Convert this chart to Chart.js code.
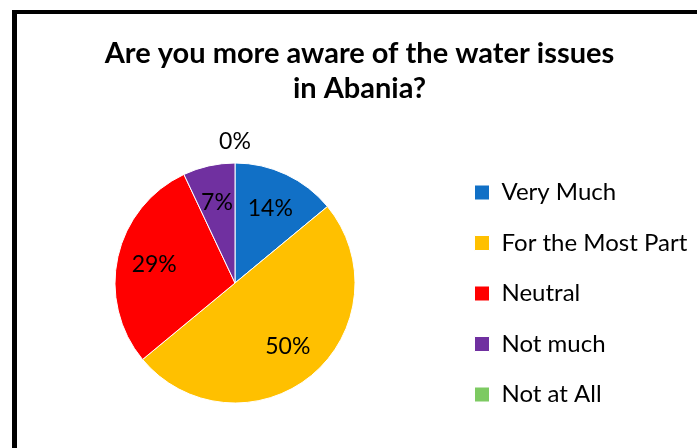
<!DOCTYPE html>
<html>
<head>
<meta charset="utf-8">
<script src="https://cdn.jsdelivr.net/npm/chart.js@4"></script>
<style>
  html, body { margin: 0; padding: 0; background: #fff; overflow: hidden; }
  #wrap { position: relative; width: 697px; height: 448px; overflow: hidden; }
  #frame { position: absolute; left: 12px; top: 10px; width: 720px; height: 480px;
           border-left: 5px solid #000; border-top: 4px solid #000; box-sizing: border-box; }
  canvas { position: absolute; left: 0; top: 0; }
</style>
</head>
<body>
<div id="wrap">
  <div id="frame"></div>
  <canvas id="c" width="697" height="448"></canvas>
</div>
<script>
const titleLines = ['Are you more aware of the water issues', 'in Abania?'];
const categories = ['Very Much', 'For the Most Part', 'Neutral', 'Not much', 'Not at All'];
const values = [14, 50, 29, 7, 0];
const sliceColors = ['#1170C6', '#FFC000', '#FF0000', '#7030A0', '#7DCA62'];

const FONT = 'Lato, Carlito, Calibri, sans-serif';

const labelPlugin = {
  id: 'sliceLabels',
  afterDatasetsDraw(chart) {
    const ctx = chart.ctx;
    const meta = chart.getDatasetMeta(0);
    ctx.save();
    ctx.font = '23px ' + FONT;
    ctx.fillStyle = '#000';
    ctx.textAlign = 'center';
    ctx.textBaseline = 'middle';
    meta.data.forEach((arc, i) => {
      const p = arc.getProps(['x', 'y', 'startAngle', 'endAngle', 'outerRadius'], true);
      const mid = (p.startAngle + p.endAngle) / 2;
      const d = values[i] === 0 ? p.outerRadius + 21 : p.outerRadius * 0.69;
      ctx.fillText(values[i] + '%', p.x + Math.cos(mid) * d, p.y + Math.sin(mid) * d);
    });
    ctx.restore();
  }
};

new Chart(document.getElementById('c'), {
  type: 'pie',
  data: {
    labels: categories,
    datasets: [{
      data: values,
      backgroundColor: sliceColors,
      borderColor: '#ffffff',
      borderWidth: 1,
      radius: 120
    }]
  },
  options: {
    responsive: false,
    animation: false,
    layout: { padding: { left: 22, right: 0, top: 0, bottom: 15 } },
    plugins: {
      tooltip: { enabled: false },
      title: {
        display: true,
        text: titleLines,
        color: '#000',
        font: { family: FONT, size: 29, weight: 'bold', lineHeight: 35 / 29 },
        padding: { top: 36, bottom: 27 }
      },
      legend: {
        position: 'right',
        align: 'end',
        maxWidth: 249,
        labels: {
          color: '#000',
          font: { family: FONT, size: 24 },
          boxWidth: 15,
          boxHeight: 15,
          padding: 26.5
        }
      }
    }
  },
  plugins: [labelPlugin]
});
</script>
</body>
</html>
